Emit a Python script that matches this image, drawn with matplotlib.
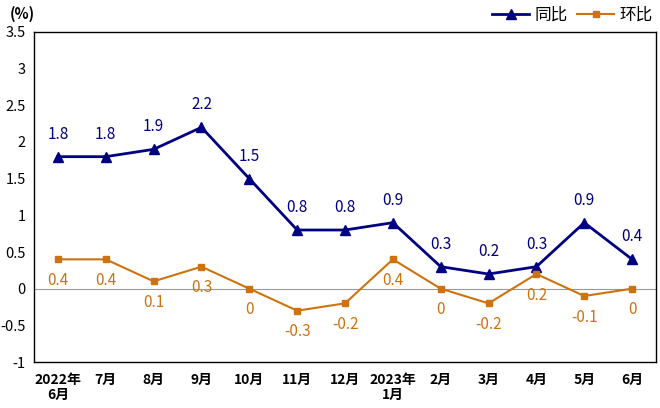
import matplotlib
matplotlib.use("Agg")
import matplotlib.pyplot as plt

plt.rcParams['font.family'] = ['Noto Sans CJK SC', 'DejaVu Sans']

months = ["2022年\n6月", "7月", "8月", "9月", "10月", "11月", "12月",
          "2023年\n1月", "2月", "3月", "4月", "5月", "6月"]
yoy = [1.8, 1.8, 1.9, 2.2, 1.5, 0.8, 0.8, 0.9, 0.3, 0.2, 0.3, 0.9, 0.4]
mom = [0.4, 0.4, 0.1, 0.3, 0, -0.3, -0.2, 0.4, 0, -0.2, 0.2, -0.1, 0]

navy = "#000080"
orange = "#CC7310"

fig = plt.figure(figsize=(6.6, 4.08), dpi=100)
ax = fig.add_axes([0.0515, 0.1127, 0.9425, 0.8089])

x = list(range(len(months)))
ax.axhline(0, color="#999999", lw=0.8, zorder=1)
ax.plot(x, yoy, color=navy, lw=2, marker="^", ms=7, label="同比", zorder=3)
ax.plot(x, mom, color=orange, lw=1.5, marker="s", ms=4.5, label="环比", zorder=3)

for i in x:
    ax.annotate(f"{yoy[i]:g}", (i, yoy[i]), xytext=(0, 10), textcoords="offset points",
                ha="center", va="bottom", color=navy, fontsize=11)
    ax.annotate(f"{mom[i]:g}", (i, mom[i]), xytext=(0, -9), textcoords="offset points",
                ha="center", va="top", color=orange, fontsize=11)

ax.set_xlim(-0.5, 12.5)
ax.set_ylim(-1, 3.5)
ax.set_yticks([-1, -0.5, 0, 0.5, 1, 1.5, 2, 2.5, 3, 3.5])
ax.set_yticklabels(["-1", "-0.5", "0", "0.5", "1", "1.5", "2", "2.5", "3", "3.5"], fontsize=10.5)
ax.set_xticks(x)
ax.set_xticklabels(months, fontsize=10, fontweight="semibold", linespacing=1.05, va="top")
ax.tick_params(axis="x", length=0, pad=8)
ax.tick_params(axis="y", length=0, pad=6)
for s in ax.spines.values():
    s.set_color("black")
    s.set_linewidth(1)

fig.text(0.015, 0.965, "(%)", fontsize=10.5, fontweight="bold", ha="left", va="center")
ax.legend(loc="lower right", bbox_to_anchor=(1.01, 0.995), ncol=2, frameon=False,
          fontsize=12, handlelength=2.2, columnspacing=0.6, handletextpad=0.3,
          borderpad=0.1)

fig.savefig("out.png", dpi=100)
